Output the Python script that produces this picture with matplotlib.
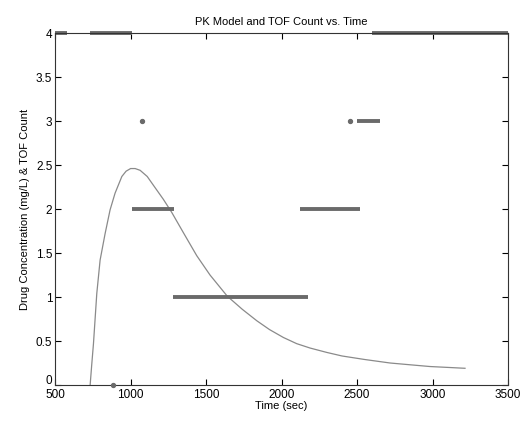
import matplotlib.pyplot as plt
from matplotlib.transforms import ScaledTranslation

# PK model curve
pk_time = [732, 742, 754, 776, 798, 831, 864, 897, 942, 970, 1000, 1030, 1063,
           1110, 1151, 1217, 1273, 1350, 1438, 1526, 1640, 1740, 1836, 1920,
           2012, 2100, 2189, 2300, 2400, 2550, 2719, 2850, 2983, 3100, 3215]
pk_conc = [0.0, 0.22, 0.47, 1.04, 1.42, 1.72, 1.99, 2.18, 2.37, 2.43, 2.46, 2.46, 2.44,
           2.37, 2.27, 2.11, 1.96, 1.73, 1.47, 1.25, 1.01, 0.86, 0.73, 0.63,
           0.54, 0.47, 0.42, 0.37, 0.33, 0.29, 0.25, 0.23, 0.21, 0.20, 0.19]

# TOF count runs: start, end, count
tof_start = [500, 730, 2600, 2500, 1010, 2120, 1280]
tof_end = [580, 1010, 3500, 2650, 1290, 2520, 2175]
tof_count = [4, 4, 4, 3, 2, 2, 1]

# single TOF readings
tof_single_t = [885, 1075, 2450]
tof_single_c = [0, 3, 3]

plt.rcParams['font.family'] = ['Liberation Sans', 'DejaVu Sans']

fig = plt.figure(figsize=(5.2, 4.21), dpi=100)
ax = fig.add_axes([0.106, 0.0855, 0.871, 0.836])

ax.plot(pk_time, pk_conc, color="#8a8a8a", lw=0.9)
ax.hlines(tof_count, tof_start, tof_end, color="#6a6a6a", lw=2.8, clip_on=False)
ax.scatter(tof_single_t, tof_single_c, s=8, color="#6a6a6a", clip_on=False, zorder=3)

ax.set_xlim(500, 3500)
ax.set_ylim(0, 4)
ax.set_xticks([500, 1000, 1500, 2000, 2500, 3000, 3500])
ax.set_yticks([0, 0.5, 1, 1.5, 2, 2.5, 3, 3.5, 4])
ax.set_yticklabels(["0", "0.5", "1", "1.5", "2", "2.5", "3", "3.5", "4"])
ax.tick_params(direction="in", top=True, right=True, length=4, labelsize=8.5, pad=2)
ax.tick_params(axis="x", pad=3)
for s in ax.spines.values():
    s.set_color("#333333")

# nudge the "0" label up so it doesn't sit on the "500"
lbl0 = ax.get_yticklabels()[0]
lbl0.set_transform(lbl0.get_transform() + ScaledTranslation(0, 4 / 72, fig.dpi_scale_trans))

ax.set_title("PK Model and TOF Count vs. Time", fontsize=8, pad=6)
ax.set_xlabel("Time (sec)", fontsize=8, labelpad=0)
ax.set_ylabel("Drug Concentration (mg/L) & TOF Count", fontsize=8, labelpad=4)

fig.savefig("out.png", dpi=100)
